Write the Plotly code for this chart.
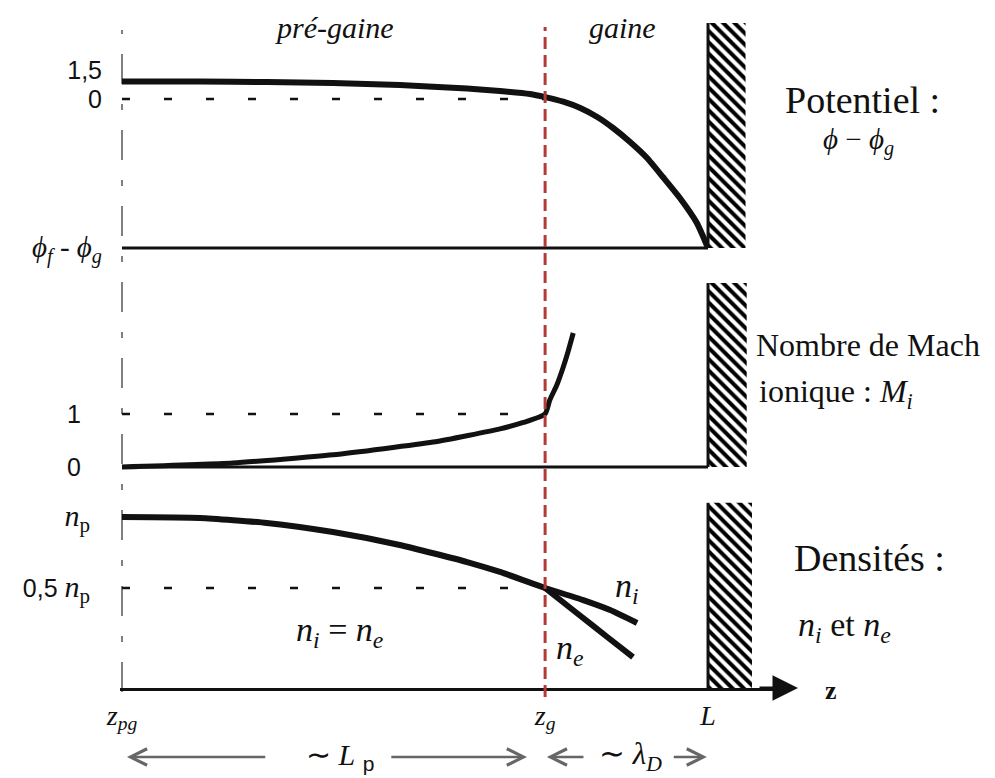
import plotly.graph_objects as go

# ---------------- figure geometry (layout only) ----------------
# the page has an 8px body margin, so the figure is drawn 8px smaller
W, H = 987, 770
ML, MR, MT, MB = 112, 205, 0, 90
PW = W - ML - MR      # 670
PH = H - MT - MB      # 680

# ---------------- data ----------------
# z in arbitrary units: z_pg = 0, L = 100
Z_PG, Z_G, Z_L = 0.0, 72.2, 100.0
x_tickvals = [Z_PG, Z_G, Z_L]
x_ticktext = ["<i>z</i><sub><i>pg</i></sub>", "<i>z</i><sub><i>g</i></sub>", "<i>L</i>"]

# Potential  phi - phi_g
pot_z = [0, 13.3, 24.7, 36.0, 47.4, 58.9, 64.5, 69.6, 72.2,
         75.3, 78.2, 81.1, 83.8, 86.7, 89.6, 92.3, 95.2, 98.1, 100]
pot_v = [0.905, 0.905, 0.879, 0.828, 0.724, 0.543, 0.414, 0.259, 0.1,
         -0.140, -0.466, -0.931, -1.500, -2.224, -3.052, -4.035, -5.122, -6.415, -7.708]
PHI_F = -7.708
PHI = "ϕ"
pot_tickvals = [1.5, 0, PHI_F]
pot_ticktext = ["1,5", "0",
                "<span style='font-family:Liberation Serif;font-size:29px'><i>%s</i><sub><i>f</i></sub> - <i>%s</i><sub><i>g</i></sub></span>" % (PHI, PHI)]

# Mach number M_i
mach_z = [0, 18.9, 36.0, 53.1, 64.5, 68.5, 72.2, 73.0, 74.2, 75.3, 76.1, 77.0]
mach_v = [0.0, 0.075, 0.23, 0.47, 0.72, 0.84, 1.0, 1.264, 1.547, 1.887, 2.170, 2.528]
mach_tickvals = [1, 0]
mach_ticktext = ["1", "0"]

# Densities (in units of n_p)
dens_z = [0, 13.3, 24.7, 36.0, 47.4, 58.9, 64.5, 72.2]
dens_v = [1.0, 0.993, 0.958, 0.894, 0.803, 0.683, 0.613, 0.5]
ni_z = [72.2, 78.7, 83.3, 87.9]
ni_v = [0.5, 0.415, 0.345, 0.254]
ne_z = [72.2, 77.6, 82.8, 87.2]
ne_v = [0.5, 0.324, 0.155, 0.014]
dens_tickvals = [1.0, 0.5]
NP = "<span style='font-family:Liberation Serif;font-size:30px'><i>n</i><sub>p</sub></span>"
dens_ticktext = [NP, "0,5 " + NP]

# walls (hatched): top of each wall in each panel's units, wall thickness in z
wall_top_pot, wall_top_mach, wall_top_dens = 3.93, 3.47, 1.10
wall_width = [6.4, 6.6, 7.5]

# axis ranges chosen so the three panels stack on one canvas
x_range = [-0.3413, 113.99]
pot_range = [-30.47, 4.708]
mach_range = [-4.170, 8.660]
dens_range = [-0.2042, 4.585]

BLACK = "#111111"
SERIF = "Liberation Serif"
SANS = "Liberation Sans"

fig = go.Figure()

def line(x, y, yaxis, width=3, color=BLACK, dash=None, spline=True):
    fig.add_trace(go.Scatter(x=x, y=y, yaxis=yaxis, mode="lines",
                             line=dict(color=color, width=width, dash=dash,
                                       shape="spline" if spline else "linear", smoothing=0.5),
                             hoverinfo="skip", showlegend=False))

DASH_H = "8px,34px"
# --- potential panel ---
line([Z_PG, Z_L], [PHI_F, PHI_F], "y", 3)
line([Z_PG, Z_G], [0, 0], "y", 2.5, dash=DASH_H)
line(pot_z, pot_v, "y", 6)
# --- Mach panel ---
line([Z_PG, Z_L], [0, 0], "y2", 3)
line([Z_PG, Z_G], [1, 1], "y2", 2.5, dash=DASH_H)
line(mach_z, mach_v, "y2", 5)
# --- density panel ---
line([Z_PG, Z_G], [0.5, 0.5], "y3", 2.5, dash=DASH_H)
line(dens_z, dens_v, "y3", 6)
line(ni_z, ni_v, "y3", 6)
line(ne_z, ne_v, "y3", 6)

# walls
for ya, bot, top, ww in [("y", PHI_F, wall_top_pot, wall_width[0]),
                          ("y2", 0, wall_top_mach, wall_width[1]),
                          ("y3", dens_range[0], wall_top_dens, wall_width[2])]:
    fig.add_trace(go.Scatter(x=[Z_L, Z_L + ww, Z_L + ww, Z_L, Z_L], y=[bot, bot, top, top, bot],
                             yaxis=ya, mode="lines", fill="toself", line=dict(width=0, color="white"),
                             fillcolor="white",
                             fillpattern=dict(shape="\\", size=8, solidity=0.5, fgcolor="black",
                                              fgopacity=1, bgcolor="white"),
                             hoverinfo="skip", showlegend=False))
    fig.add_trace(go.Scatter(x=[Z_L, Z_L], y=[bot, top], yaxis=ya, mode="lines",
                             line=dict(color=BLACK, width=3), hoverinfo="skip", showlegend=False))

# positions given in reference-picture pixels
def py2paper(py):
    return (688 - py) / PH

def px2paper(px):
    return (px - 120) / PW

# vertical reference lines
fig.add_shape(type="line", xref="x", yref="paper", x0=Z_PG, x1=Z_PG,
              y0=py2paper(692), y1=py2paper(30), layer="below",
              line=dict(color="#555555", width=1.5, dash="30px,20px,6px,20px"))
fig.add_shape(type="line", xref="x", yref="paper", x0=Z_G, x1=Z_G,
              y0=py2paper(697), y1=py2paper(27), layer="above",
              line=dict(color="#b53a36", width=3, dash="12px,6px"))

ann = []
def text(t, px, py, size, family=SERIF, color=BLACK, xanchor="center"):
    ann.append(dict(text=t, x=px2paper(px), y=py2paper(py), xref="paper", yref="paper",
                    showarrow=False, xanchor=xanchor, yanchor="middle",
                    font=dict(family=family, size=size, color=color)))

text("<i>pré-gaine</i>", 334, 27, 30)
text("<i>gaine</i>", 622, 27, 30)
text("Potentiel :", 862, 100, 38)
text("<i>%s</i> − <i>%s</i><sub><i>g</i></sub>" % (PHI, PHI), 858, 142, 29)
text("Nombre de Mach", 868, 345, 32)
text("ionique : <i>M</i><sub><i>i</i></sub>", 836, 393, 32)
text("Densités :", 870, 558, 38)
text("<i>n</i><sub><i>i</i></sub> et <i>n</i><sub><i>e</i></sub>", 845, 627, 34)
text("<b>z</b>", 831, 690, 26)
text("<i>n</i><sub><i>i</i></sub> = <i>n</i><sub><i>e</i></sub>", 340, 632, 34)
text("<i>n</i><sub><i>i</i></sub>", 627, 588, 34)
text("<i>n</i><sub><i>e</i></sub>", 570, 650, 34)
text("∼ <i>L</i> <span style='font-family:Liberation Sans'><sub>p</sub></span>", 340, 756, 30)
text("∼ <i>λ</i><sub><i>D</i></sub>", 630, 756, 31)

GREY = "#666666"
def arrow(z_head, z_tail, py):
    ann.append(dict(x=z_head, y=py2paper(py), xref="x", yref="paper",
                    ax=z_tail, ay=0, axref="x", ayref="pixel", text="",
                    showarrow=True, arrowhead=5, arrowsize=1.3, arrowwidth=2.5, arrowcolor=GREY))

arrow(0.85, 24.7, 757)
arrow(69.1, 45.7, 757)
arrow(72.5, 79.0, 757)
arrow(99.8, 93.9, 757)

# z-axis arrowhead
ann.append(dict(x=px2paper(798), y=0, xref="paper", yref="paper", ax=-40, ay=0,
                text="", showarrow=True, arrowhead=2, arrowsize=1.7, arrowwidth=3, arrowcolor=BLACK))

fig.update_layout(
    width=W, height=H, margin=dict(l=ML, r=MR, t=MT, b=MB),
    paper_bgcolor="white", plot_bgcolor="white", showlegend=False,
    annotations=ann,
    xaxis=dict(range=x_range, showgrid=False, zeroline=False, showline=True, linewidth=3,
               linecolor=BLACK, ticks="", tickvals=x_tickvals, ticktext=x_ticktext,
               tickfont=dict(family=SERIF, size=28, color=BLACK), ticklabelstandoff=0,
               fixedrange=True),
    yaxis=dict(range=pot_range, showgrid=False, zeroline=False, showline=False, ticks="",
               tickvals=pot_tickvals, ticktext=pot_ticktext, ticklabelstandoff=17,
               tickfont=dict(family=SANS, size=25, color=BLACK)),
    yaxis2=dict(range=mach_range, overlaying="y", anchor="x", side="left", showgrid=False,
                zeroline=False, showline=False, ticks="", tickvals=mach_tickvals,
                ticktext=mach_ticktext, ticklabelstandoff=38,
                tickfont=dict(family=SANS, size=25, color=BLACK)),
    yaxis3=dict(range=dens_range, overlaying="y", anchor="x", side="left", showgrid=False,
                zeroline=False, showline=False, ticks="", tickvals=dens_tickvals,
                ticktext=dens_ticktext, ticklabelstandoff=29,
                tickfont=dict(family=SANS, size=25, color=BLACK)),
)

fig.write_html("out.html")
